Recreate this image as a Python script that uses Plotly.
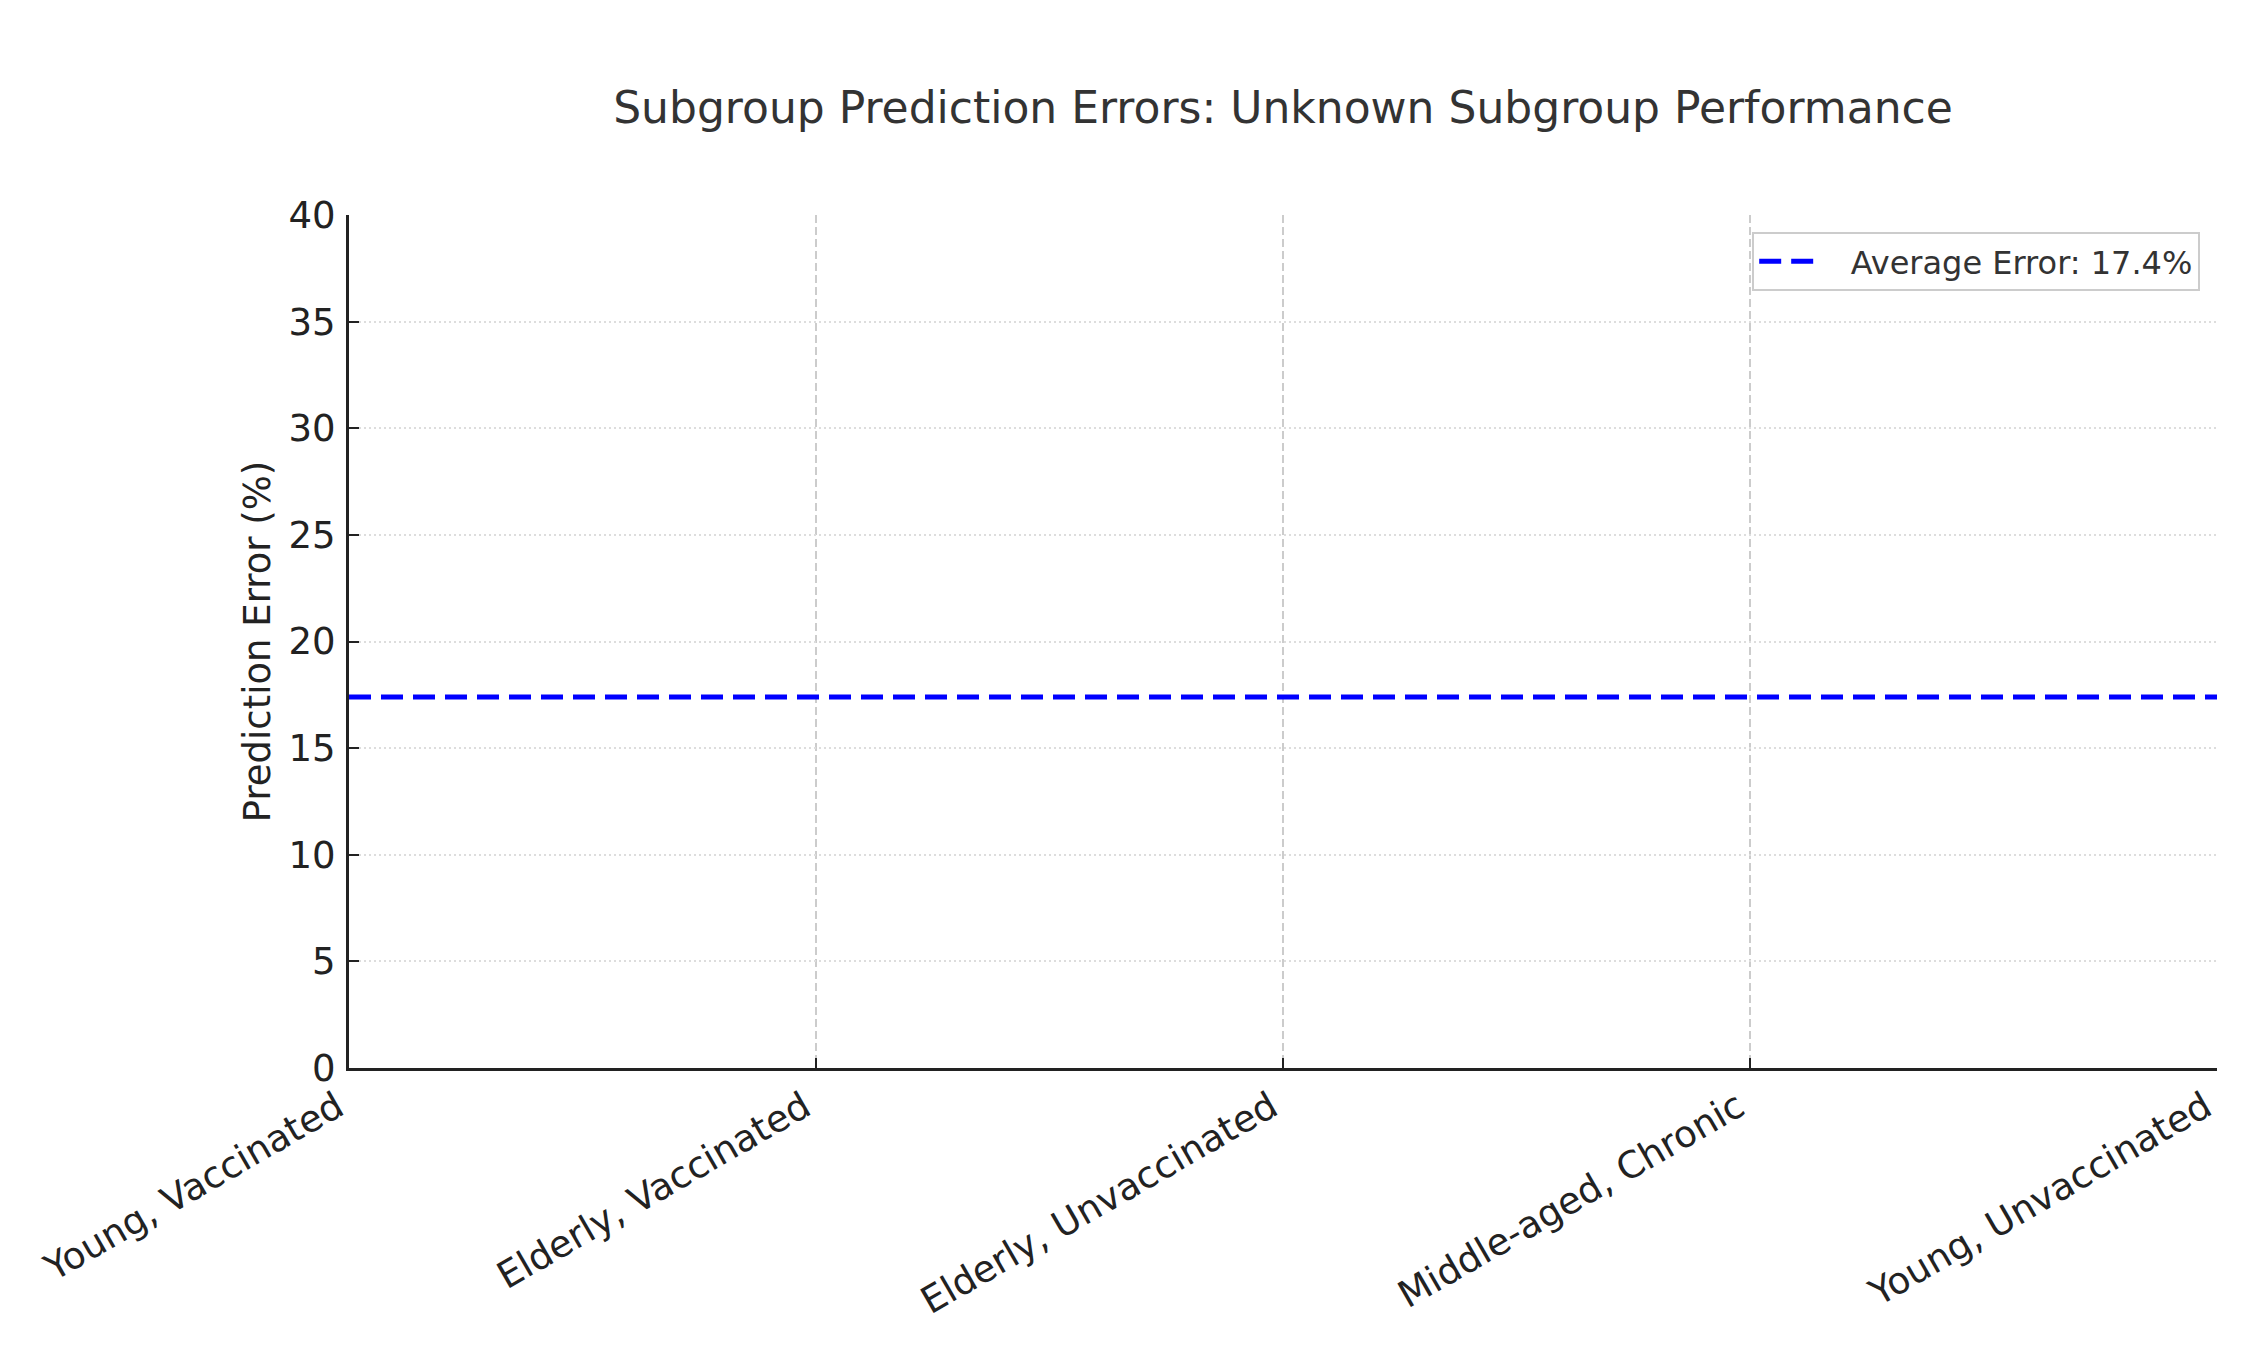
import plotly.graph_objects as go

# datos
subgrupos = ["Young, Vaccinated", "Elderly, Vaccinated", "Elderly, Unvaccinated",
             "Middle-aged, Chronic", "Young, Unvaccinated"]
error_promedio = 17.4
linea_promedio = [error_promedio] * len(subgrupos)
y_ticks = [0, 5, 10, 15, 20, 25, 30, 35, 40]

fuente = "DejaVu Sans"

fig = go.Figure()
fig.add_trace(go.Scatter(
    x=subgrupos, y=linea_promedio, mode="lines",
    # espacios no separables para dejar aire entre el simbolo y el texto
    name="\u00a0\u00a0\u00a0" + f"Average Error: {error_promedio}%",
    line=dict(color="#0000ff", width=5, dash="22px,10px"),
))

# el body del html suma 8px arriba/izquierda, se compensa en los margenes
fig.update_layout(
    width=2250, height=1350,
    paper_bgcolor="white", plot_bgcolor="white",
    font=dict(family=fuente, color="#222222"),
    title=dict(text="Subgroup Prediction Errors: Unknown Subgroup Performance",
               x=(341 + 2209) / 2 / 2250, xanchor="center", y=1 - 100 / 1350, yanchor="middle",
               font=dict(size=44, color="#333333", family=fuente)),
    margin=dict(l=341, r=41, t=207, b=290),
    showlegend=True,
    legend=dict(x=0.991, y=0.980, xanchor="right", yanchor="top",
                bgcolor="white", bordercolor="#cccccc", borderwidth=2,
                itemwidth=56,
                font=dict(size=32, color="#333333", family=fuente)),
    xaxis=dict(
        type="category", range=[0, len(subgrupos) - 1], automargin=False,
        showline=True, linecolor="#222222", linewidth=3,
        ticks="inside", ticklen=10, tickwidth=2, tickcolor="#222222",
        tickangle=-30, tickfont=dict(size=37, color="#222222"),
        ticklabelshift=-12,
        showgrid=True, gridcolor="#cccccc", gridwidth=1.5, griddash="8px,4px",
        zeroline=False, mirror=False,
    ),
    yaxis=dict(
        range=[0, 40], tickvals=y_ticks, automargin=False,
        showline=True, linecolor="#222222", linewidth=3,
        ticks="inside", ticklen=10, tickwidth=2, tickcolor="#222222",
        ticklabelstandoff=3,
        tickfont=dict(size=37, color="#222222"),
        showgrid=True, gridcolor="#dddddd", gridwidth=1.5, griddash="2px,3px",
        zeroline=False,
        title=dict(text="Prediction Error (%)", font=dict(size=37, color="#222222"), standoff=7),
    ),
)

fig.write_html("out.html")
